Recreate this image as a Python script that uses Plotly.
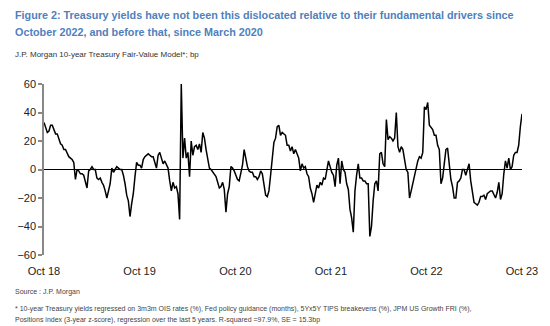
import pandas as pd
import plotly.graph_objects as go

# Fair-value model residual, bp (~weekly)
values = [
    33, 30, 26, 27, 31, 31, 28, 25, 25, 21, 18, 17, 14, 14, 11, 9, 8, 7, 5, -7,
    0, -1, -3, -3, -4, -9, -13, -1, 0, 2, 0, 0, -6, -7, -6, -9, -11, -15, -20, -15,
    -10, 1, -2, 0, 2, 1, 0, 0, -4, -10, -18, -22, -33, -24, -17, -5, 5, 3, 3, 1,
    7, 9, 10, 11, 10, 9, 9, 5, 1, 10, 12, 8, 4,
    6, 3, 1, -8, -15, -9, -13, -12, -17, -35, 60, 8, 22, 8, 12, -5, 20, 10, 16, 17,
    14, 18, 12, 26, 22, 14, 7, 1, 0, -2, -3, -5, -9, -13, -12, -9, -14, -30, -17, -12,
    2, 1, -1, -4, -7, -8, -3, 3, 14, 7, 2, -1, -2, -2, -5, -5, -7, -5, -1, -3,
    -10, -18, -19, -15, -4, 8, 19, 22, 30, 31, 24, 26,
    25, 24, 17, 17, 13, 16, 11, 14, 11, 8, -1, 4, 1, 2, -3, -5, -13, -17, -23, -18,
    -11, -13, -9, -11, -6, -7, -1, 6, 2, -2, -4, -12, 3, 8, -10, 6, 0, -2, -10, -14,
    -28, -34, -44, -15, -4, 4, -6, -6, -8, -8, -10, -10, -47, -40, -22, -10, -8, -15, 11, 12,
    4, 2, 35, 21, 23, 22, 20, 22, 40, 16, 12, 16,
    14, 5, 0, -2, -20, -15, -10, -3, 1, 6, 9, 8, 12, 44, 42, 47, 31, 29, 28, 24,
    24, 17, 14, -10, -6, 4, 14, 15, 4, -7, -12, -20, -20, -9, -8, -6, 0, 0, -4, 0,
    4, -8, -15, -23, -24, -25, -23, -19, -19, -18, -21, -17, -16, -15, -15, -18, -20, -16, -9, -21,
    -17, -3, 6, 1, 8, 0, 2, 10, 12, 12, 17, 30, 39,
]
start_date = "2018-10-01"
end_date = "2023-10-01"
dates = pd.date_range(start_date, end_date, periods=len(values))

tick_dates = ["2018-10-01", "2019-10-01", "2020-10-01", "2021-10-01", "2022-10-01", "2023-10-01"]
tick_labels = ["Oct 18", "Oct 19", "Oct 20", "Oct 21", "Oct 22", "Oct 23"]
y_ticks = [-60, -40, -20, 0, 20, 40, 60]

title_lines = ["Figure 2: Treasury yields have not been this dislocated relative to their fundamental drivers since",
               "October 2022, and before that, since March 2020"]
subtitle_text = "J.P. Morgan 10-year Treasury Fair-Value Model*; bp"
foot_lines = ["Source : J.P. Morgan",
              "* 10-year Treasury yields regressed on 3m3m OIS rates (%), Fed policy guidance (months), 5Yx5Y TIPS breakevens (%), JPM US Growth FRI (%),",
              "Positions index (3-year z-score), regression over the last 5 years. R-squared =97.9%, SE = 15.3bp"]

font = "Liberation Sans, Arial, sans-serif"

fig = go.Figure()
fig.add_trace(go.Scatter(x=dates, y=values, mode="lines",
                         line=dict(color="black", width=1.5), showlegend=False))

fig.update_layout(
    width=550, height=326,
    margin=dict(l=44, r=25, t=84, b=71),
    paper_bgcolor="white", plot_bgcolor="white",
    font=dict(family=font, color="#222222"),
    xaxis=dict(range=[start_date, end_date], tickmode="array", tickvals=tick_dates,
               ticktext=tick_labels, showgrid=False, showline=False, ticks="",
               ticklabelstandoff=8,
               tickfont=dict(size=11, color="#222222"), zeroline=False),
    yaxis=dict(range=[-60, 60], tickvals=y_ticks, showgrid=False, showline=True,
               linecolor="#888888", linewidth=1.5, ticks="outside", ticklen=4,
               tickcolor="#888888", tickwidth=1.5,
               tickfont=dict(size=11, color="#222222"),
               zeroline=True, zerolinecolor="black", zerolinewidth=1.2),
)

# title (two lines), centres at y ~15 and ~32 px from the top
for txt, yc in zip(title_lines, [15, 32]):
    fig.add_annotation(text=txt, xref="paper", yref="paper", x=-0.064, y=1.0,
                       yshift=84 - yc, xanchor="left", yanchor="middle", showarrow=False,
                       font=dict(size=10.8, color="#4f81bd", family=font, weight="bold"))
fig.add_annotation(text=subtitle_text, xref="paper", yref="paper", x=-0.064, y=1.0,
                   yshift=84 - 54, xanchor="left", yanchor="middle", showarrow=False,
                   font=dict(size=8, color="#333333", family=font))
for txt, yc in zip(foot_lines, [292, 309, 320]):
    fig.add_annotation(text=txt, xref="paper", yref="paper", x=-0.064, y=0,
                       yshift=255 - yc, xanchor="left", yanchor="middle", showarrow=False,
                       font=dict(size=7, color="#444444", family=font))

fig.write_html("out.html")
